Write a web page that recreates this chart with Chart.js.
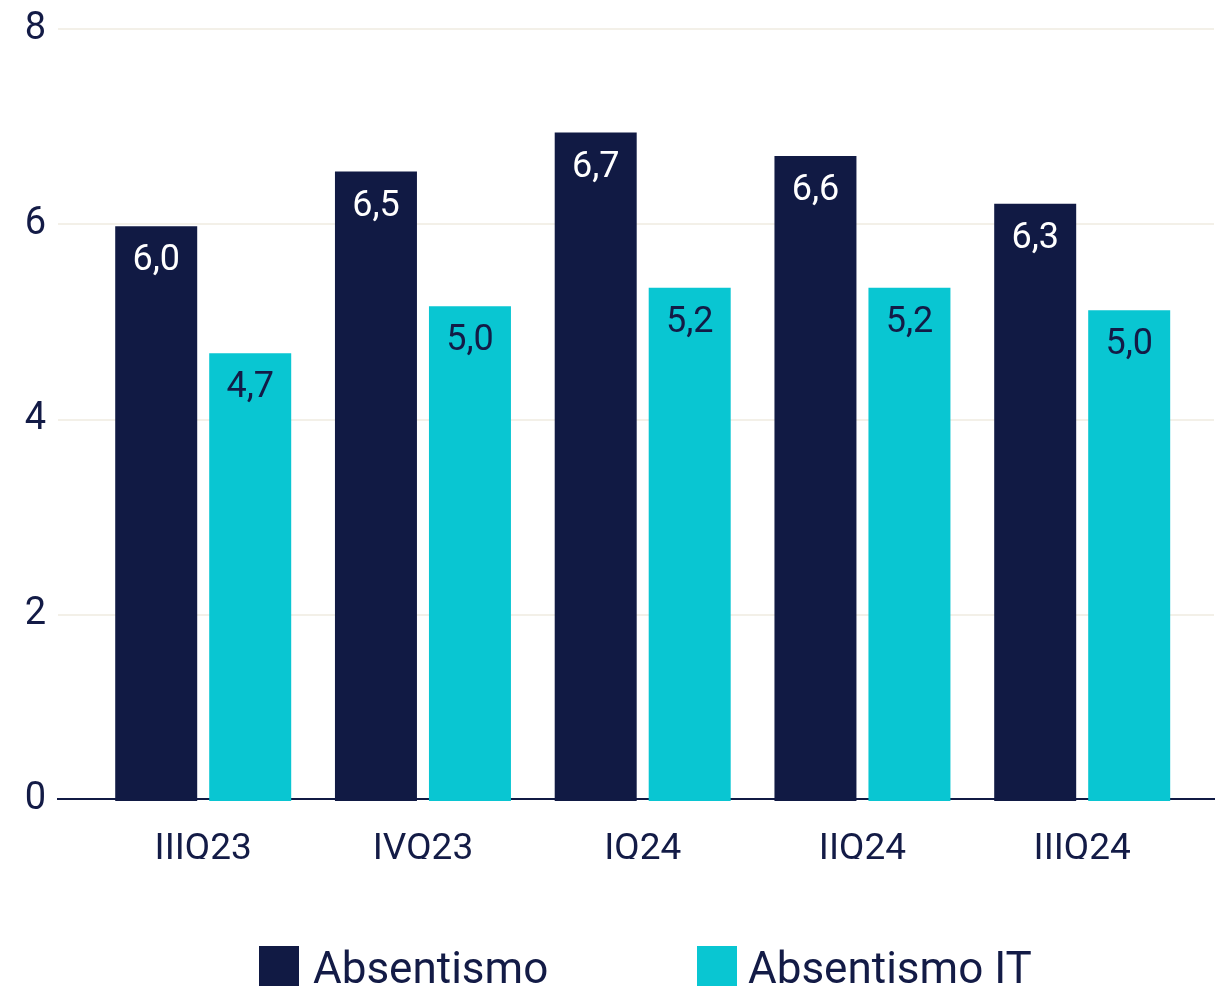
<!DOCTYPE html>
<html>
<head>
<meta charset="utf-8">
<script src="https://cdn.jsdelivr.net/npm/chart.js@4.4.1/dist/chart.umd.min.js"></script>
<style>
  html, body { margin: 0; padding: 0; background: #ffffff; }
  #wrap { position: relative; width: 1230px; height: 997px; overflow: hidden; font-family: Roboto, sans-serif; }
  #chart { position: absolute; left: 0; top: 0; }
  .leg { position: absolute; top: 946px; display: flex; align-items: flex-start; }
  .leg .box { width: 40px; height: 40px; }
  .leg .txt { font-size: 44px; line-height: 44px; color: #131b46; white-space: nowrap; }
</style>
</head>
<body>
<div id="wrap">
  <canvas id="chart" width="1230" height="997"></canvas>
  <div id="legend"></div>
</div>
<script>
// ---- data ----
const categories = ['IIIQ23', 'IVQ23', 'IQ24', 'IIQ24', 'IIIQ24'];
const seriesNames = ['Absentismo', 'Absentismo IT'];
const absentismo = [5.98, 6.54, 6.94, 6.70, 6.21];
const absentismoIT = [4.68, 5.16, 5.35, 5.35, 5.12];
const absentismoLabels = ['6,0', '6,5', '6,7', '6,6', '6,3'];
const absentismoITLabels = ['4,7', '5,0', '5,2', '5,2', '5,0'];
const yTickValues = [2, 4, 6, 8];
const yBase = 0.115;
const yMax = 8;

// ---- styles ----
const NAVY = '#111a44';
const CYAN = '#09c6d2';
const TEXT = '#131b46';
const GRID = '#f3f0e8';
const seriesColors = [NAVY, CYAN];
const labelColors = ['#ffffff', TEXT];

Chart.defaults.font.family = 'Roboto, sans-serif';
Chart.defaults.color = TEXT;

const valueLabelsPlugin = {
  id: 'valueLabels',
  afterDatasetsDraw(chart) {
    const ctx = chart.ctx;
    const labelSets = [absentismoLabels, absentismoITLabels];
    chart.data.datasets.forEach((ds, di) => {
      const meta = chart.getDatasetMeta(di);
      meta.data.forEach((bar, i) => {
        ctx.save();
        ctx.font = '36px Roboto, sans-serif';
        ctx.fillStyle = labelColors[di];
        ctx.textAlign = 'center';
        ctx.textBaseline = 'alphabetic';
        ctx.fillText(labelSets[di][i], bar.x, bar.y + 44);
        ctx.restore();
      });
    });
  }
};

const toPoints = arr => arr.map((v, i) => ({ x: i, y: v }));

new Chart(document.getElementById('chart'), {
  type: 'bar',
  data: {
    datasets: [
      { label: seriesNames[0], data: toPoints(absentismo), backgroundColor: NAVY,
        categoryPercentage: 0.8555, barPercentage: 0.8723, clip: { left: 0, top: 0, right: 0, bottom: 2 } },
      { label: seriesNames[1], data: toPoints(absentismoIT), backgroundColor: CYAN,
        categoryPercentage: 0.8555, barPercentage: 0.8723, clip: { left: 0, top: 0, right: 0, bottom: 2 } }
    ]
  },
  options: {
    responsive: false,
    animation: false,
    devicePixelRatio: 1,
    layout: { padding: { top: 29, right: 16, bottom: 138, left: 0 } },
    plugins: { legend: { display: false }, tooltip: { enabled: false } },
    scales: {
      x: {
        type: 'linear',
        position: 'bottom',
        offset: false,
        bounds: 'data',
        min: -0.6608,
        max: 4.5998,
        z: 1,
        grid: { display: false, drawTicks: false },
        border: { display: true, color: NAVY, width: 2 },
        afterBuildTicks: scale => { scale.ticks = categories.map((c, i) => ({ value: i })); },
        afterFit: scale => { scale.height = 60; },
        ticks: {
          padding: 29,
          maxRotation: 0,
          autoSkip: false,
          font: { size: 37 },
          color: TEXT,
          callback: v => categories[v]
        }
      },
      y: {
        min: yBase,
        max: yMax,
        grid: { color: GRID, lineWidth: 2, drawTicks: false },
        border: { display: false },
        afterBuildTicks: scale => { scale.ticks = [{ value: yBase }].concat(yTickValues.map(v => ({ value: v }))); },
        afterFit: scale => { scale.width = 58; scale.paddingTop = 0; scale.paddingBottom = 0; },
        ticks: {
          padding: 12,
          font: { size: 38 },
          color: TEXT,
          callback: v => (v === yBase ? '0' : String(v))
        }
      }
    }
  },
  plugins: [valueLabelsPlugin]
});

// ---- legend (HTML text) ----
const legendLefts = [259, 697];
const legendTextGaps = [14, 11];
const legendEl = document.getElementById('legend');
seriesNames.forEach((name, i) => {
  const item = document.createElement('div');
  item.className = 'leg';
  item.style.left = legendLefts[i] + 'px';
  const box = document.createElement('span');
  box.className = 'box';
  box.style.background = seriesColors[i];
  box.style.marginRight = legendTextGaps[i] + 'px';
  const txt = document.createElement('span');
  txt.className = 'txt';
  txt.textContent = name;
  item.appendChild(box);
  item.appendChild(txt);
  legendEl.appendChild(item);
});
</script>
</body>
</html>
